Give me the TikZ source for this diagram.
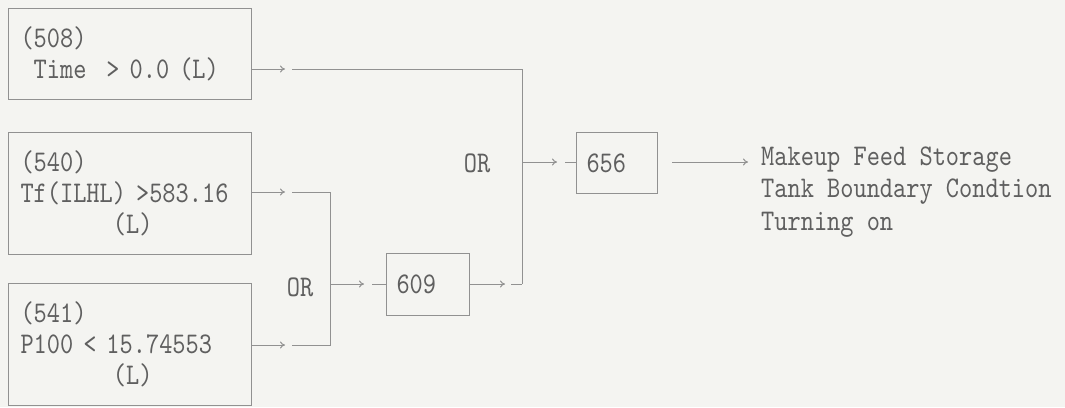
\documentclass[tikz,border=0pt]{standalone}
\usepackage{fontspec}
\newfontfamily\prt{lmmono10-regular.otf}[FakeStretch=0.838]
\usetikzlibrary{arrows.meta,calc}
\definecolor{bg}{RGB}{244,244,241}
\definecolor{ink}{RGB}{95,95,95}
\definecolor{wire}{RGB}{145,145,145}
\newcommand\prtfont{\prt\fontsize{30}{31}\selectfont\fontdimen2\font=13.2pt\fontdimen3\font=0pt\fontdimen4\font=0pt\relax}
\newcommand\prtwide{\prt\fontsize{30}{32.5}\selectfont\fontdimen2\font=13.2pt\fontdimen3\font=0pt\fontdimen4\font=0pt\relax}
\begin{document}
\begin{tikzpicture}[x=1pt,y=-1pt,
  txt/.style={font=\prtfont, text=ink, inner sep=0pt},
  cond/.style={txt, draw=wire, line width=1pt, rectangle, align=left, anchor=north west,
     inner xsep=12pt, inner ysep=0pt, text width=219pt, minimum width=243pt},
  gate/.style={txt, draw=wire, line width=1pt, rectangle, align=left, anchor=north west,
     inner xsep=10pt, inner ysep=0pt},
  wireline/.style={draw=wire, line width=1pt},
  arr/.style={wireline, -{To[length=5pt,width=7pt]}}
]
\fill[bg] (0,0) rectangle (1065,407);
\useasboundingbox (0,0) rectangle (1065,407);

% condition boxes
\node[cond, minimum height=91pt] (b508) at (8,8)
  {(508)\\\hspace*{13.2pt}Time\ \ > 0.0 (L)};
\node[cond, minimum height=122pt] (b540) at (8,132)
  {(540)\\Tf(ILHL) >583.16\\\hspace*{92.4pt}(L)};
\node[cond, minimum height=122pt] (b541) at (8,283)
  {(541)\\P100 < 15.74553\\\hspace*{92.4pt}(L)};

% gate boxes
\node[gate, text width=63pt, minimum width=83pt, minimum height=62pt] (b609) at (386,253) {609};
\node[gate, text width=61pt, minimum width=81pt, minimum height=61pt] (b656) at (576,132) {656};

% labels
\node[txt] (or1) at (300,287) {OR};
\node[txt] (or2) at (477,163) {OR};
\node[txt, font=\prtwide, align=left, anchor=west] (out) at (761,192)
  {Makeup Feed Storage\\Tank Boundary Condtion\\Turning on};

% coordinates
\coordinate (y69) at (0,69);
\coordinate (y192) at (0,192);
\coordinate (y345) at (0,345);
\coordinate (y284) at (0,284);
\coordinate (y162) at (0,162);
\coordinate (a1e) at (285,69);
\coordinate (l1s) at (292,69);
\coordinate (j1t) at (522,69);
\coordinate (j1b) at (522,284);
\coordinate (j1m) at (522,162);
\coordinate (a2e) at (285,192);
\coordinate (l2s) at (292,192);
\coordinate (j2t) at (330,192);
\coordinate (j2b) at (330,345);
\coordinate (l3s) at (292,345);
\coordinate (a3e) at (285,345);
\coordinate (j2m) at (330,284);
\coordinate (a4e) at (364,284);
\coordinate (d4s) at (372,284);
\coordinate (a5e) at (505,284);
\coordinate (d5s) at (511,284);
\coordinate (a6e) at (557,162);
\coordinate (d6s) at (565,162);
\coordinate (o1s) at (672,162);
\coordinate (o1e) at (748,162);

% connectors
\draw[arr] (b508.east |- y69) -- (a1e);
\draw[wireline] (l1s) -- (j1t) -- (j1b);
\draw[arr] (b540.east |- y192) -- (a2e);
\draw[wireline] (l2s) -- (j2t) -- (j2b) -- (l3s);
\draw[arr] (b541.east |- y345) -- (a3e);
\draw[arr] (j2m) -- (a4e);
\draw[wireline] (d4s) -- (b609.west |- y284);
\draw[arr] (b609.east |- y284) -- (a5e);
\draw[wireline] (d5s) -- (j1b);
\draw[arr] (j1m) -- (a6e);
\draw[wireline] (d6s) -- (b656.west |- y162);
\draw[arr] (o1s) -- (o1e);
\end{tikzpicture}
\end{document}
